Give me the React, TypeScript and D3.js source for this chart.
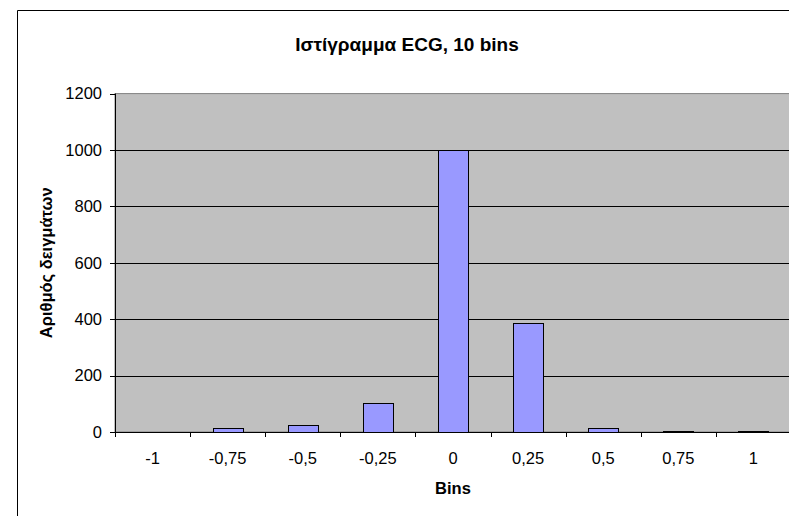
import React from "react";
import * as d3 from "d3";

const categories = ["-1", "-0,75", "-0,5", "-0,25", "0", "0,25", "0,5", "0,75", "1"];
const counts = [0, 13, 25, 104, 1000, 385, 13, 3, 3];
const yTicks = [0, 200, 400, 600, 800, 1000, 1200];
const title = "Ιστίγραμμα ECG, 10 bins";
const xTitle = "Bins";
const yTitle = "Αριθμός δειγμάτων";

export default function App() {
  const W = 789, H = 516;
  const left = 115, right = 791, top = 93.6, bottom = 432;
  const x = d3.scaleBand<string>().domain(categories).range([left, right]).paddingInner(0.6).paddingOuter(0.3);
  const y = d3.scaleLinear().domain([0, 1200]).range([bottom, top]);
  const step = x.step();
  const bw = x.bandwidth();
  const font = "'Liberation Sans', Arial, sans-serif";
  const midX = (left + right) / 2;
  return (
    <svg width={W} height={H} style={{ position: "absolute", left: 0, top: 0, background: "#fff" }} fontFamily={font}>
      <rect x={0} y={0} width={W} height={H} fill="#fff" />
      {/* chart border */}
      <path d={`M17.5,${H + 5} L17.5,10.5 L${W + 5},10.5`} fill="none" stroke="#000" strokeWidth={1} />
      <text x={407} y={51} textAnchor="middle" fontSize={19} fontWeight="bold">{title}</text>
      {/* plot area */}
      <rect x={left} y={top} width={right - left} height={bottom - top} fill="#C0C0C0" stroke="#808080" strokeWidth={1} />
      {yTicks.filter(t => t > 0 && t < 1200).map(t => (
        <line key={t} x1={left} x2={right} y1={Math.round(y(t)) + 0.5} y2={Math.round(y(t)) + 0.5} stroke="#000" strokeWidth={1} />
      ))}
      {categories.map((c, i) => counts[i] > 0 ? (
        <rect key={c} x={Math.round(x(c)!) + 0.5} y={Math.round(y(counts[i])) + 0.5}
          width={Math.round(bw)} height={Math.max(0, Math.round(bottom) - Math.round(y(counts[i])))}
          fill="#9999FF" stroke="#000" strokeWidth={1} />
      ) : null)}
      {/* axes */}
      <line x1={left + 0.5} x2={left + 0.5} y1={top} y2={bottom} stroke="#000" />
      <line x1={left} x2={right} y1={bottom + 0.5} y2={bottom + 0.5} stroke="#000" />
      {yTicks.map(t => (
        <g key={t}>
          <line x1={left - 5} x2={left} y1={Math.round(y(t)) + 0.5} y2={Math.round(y(t)) + 0.5} stroke="#000" />
          <text x={left - 13} y={y(t)} dy="0.35em" textAnchor="end" fontSize={16.5}>{t}</text>
        </g>
      ))}
      {categories.map((c, i) => {
        const bx = x(c)! - (step - bw) / 2;
        return (
          <g key={c}>
            <line x1={Math.round(bx) + 0.5} x2={Math.round(bx) + 0.5} y1={bottom} y2={bottom + 5} stroke="#000" />
            <text x={x(c)! + bw / 2} y={458} dy="0.35em" textAnchor="middle" fontSize={16.5}>{c}</text>
          </g>
        );
      })}
      <text x={x("0")! + bw / 2} y={488} dy="0.35em" textAnchor="middle" fontSize={16.5} fontWeight="bold">{xTitle}</text>
      <text transform={`translate(46,${(top + bottom) / 2}) rotate(-90)`} dy="0.35em" textAnchor="middle" fontSize={16.5} fontWeight="bold">{yTitle}</text>
    </svg>
  );
}
